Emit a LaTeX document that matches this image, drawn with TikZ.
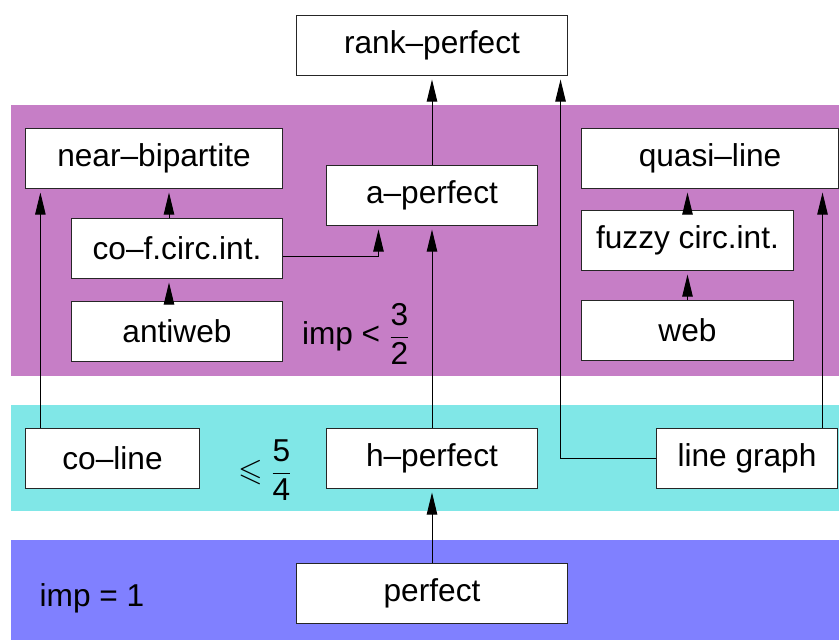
\documentclass[tikz,border=0pt]{standalone}
\usepackage{amsmath,amssymb}
\usepackage{fontspec}
\setmainfont{Liberation Sans}
\usetikzlibrary{arrows.meta,calc}
\definecolor{imppurple}{RGB}{198,126,198}
\definecolor{impcyan}{RGB}{128,231,231}
\definecolor{impblue}{RGB}{128,128,255}
\tikzset{
  box/.style={draw=black!85,fill=white,line width=0.7pt,minimum height=1.5cm,inner sep=0pt,
    font=\fontsize{22.5}{27}\selectfont},
  lbl/.style={inner sep=0pt,font=\fontsize{22.5}{27}\selectfont},
  arrow/.style={-{Triangle[length=5.5mm,width=2.6mm]},line width=0.7pt,shorten >=0.1cm}
}

\begin{document}
\begin{tikzpicture}[x=0.025cm,y=-0.025cm]

  \useasboundingbox (0,0) rectangle (839,640);
  \fill[imppurple] (11,105) rectangle (839,376);
  \fill[impcyan]   (11,405) rectangle (839,511);
  \fill[impblue]   (11,540) rectangle (839,640);

  \node[box,minimum width=6.75cm] (rank)  at (432, 45)   {rank--perfect};
  \node[box,minimum width=6.4cm]  (nbip)  at (154,158)   {near--bipartite};
  \node[box,minimum width=5.25cm] (aperf) at (432,195)   {a--perfect};
  \node[box,minimum width=5.25cm] (cofci) at (177,248)   {co--f.circ.int.};
  \node[box,minimum width=5.25cm] (aweb)  at (177,331)   {antiweb};
  \node[box,minimum width=6.4cm]  (qline) at (710,158)   {quasi--line};
  \node[box,minimum width=5.28cm] (fuzzy) at (687.5,240) {fuzzy circ.int.};
  \node[box,minimum width=5.28cm] (web)   at (687.5,330) {web};
  \node[box,minimum width=4.33cm] (cline) at (112.5,458) {co--line};
  \node[box,minimum width=5.25cm] (hperf) at (432,458)   {h--perfect};
  \node[box,minimum width=4.5cm]  (lgr)   at (747,458)   {line graph};
  \node[box,minimum width=6.75cm] (perf)  at (432,593)   {perfect};

  \node[lbl] (impa) at (356,334) {imp < $\dfrac{\text{3}}{\text{2}}$};
  \node[lbl] (impb) at (265,470) {$\leqslant\dfrac{\text{5}}{\text{4}}$};
  \node[lbl] (impc) at (92,598)  {imp = 1};

  % connector ends off the box centres
  \coordinate (lgtop)   at ($(lgr.north east)+(-15,0)$);
  \coordinate (cltop)   at ($(cline.north west)+(15,0)$);
  \coordinate (cftop)   at ($(cofci.north)+(-8,0)$);
  \coordinate (awtop)   at ($(aweb.north)+(-8,0)$);
  \coordinate (cfright) at ($(cofci.east)+(0,8)$);
  \coordinate (apin)    at ($(aperf.south west)+(52,0)$);
  \coordinate (rkin)    at ($(rank.south east)+(-7,0)$);

  \draw[arrow] (aperf.north) -- (rank.south);
  \draw[arrow] (lgr.west) -| (rkin);
  \draw[arrow] (lgtop) -- (lgtop |- qline.south);
  \draw[arrow] (cltop) -- (cltop |- nbip.south);
  \draw[arrow] (hperf.north) -- (aperf.south);
  \draw[arrow] (perf.north) -- (hperf.south);
  \draw[arrow] (cftop) -- (cftop |- nbip.south);
  \draw[arrow] (awtop) -- (awtop |- cofci.south);
  \draw[arrow] (cfright) -| (apin);
  \draw[arrow] (web.north) -- (fuzzy.south);
  \draw[arrow] (fuzzy.north) -- (fuzzy.north |- qline.south);

\end{tikzpicture}
\end{document}
